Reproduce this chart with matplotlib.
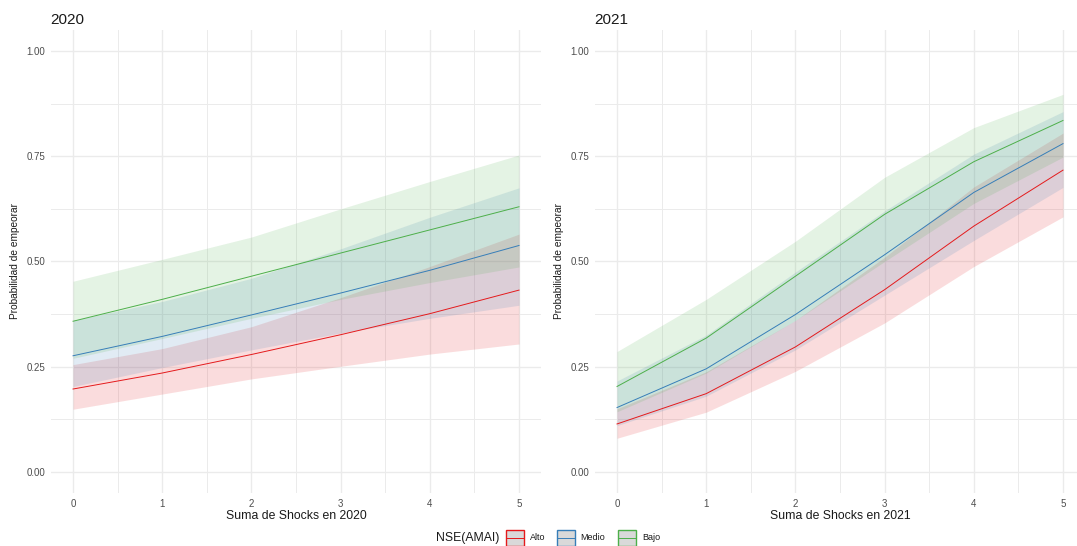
import matplotlib.pyplot as plt
from matplotlib.patches import Rectangle
from matplotlib.lines import Line2D

plt.rcParams['font.family'] = ['Liberation Sans', 'DejaVu Sans']

shocks = [0, 1, 2, 3, 4, 5]
grupos = ['Alto', 'Medio', 'Bajo']
colores = {'Alto': '#E41A1C', 'Medio': '#377EB8', 'Bajo': '#4DAF4A'}

# 2020: probabilidad predicha y banda de confianza por NSE
p2020 = {
    'Alto':  [0.197, 0.235, 0.279, 0.326, 0.376, 0.432],
    'Medio': [0.276, 0.322, 0.373, 0.425, 0.479, 0.538],
    'Bajo':  [0.358, 0.410, 0.465, 0.520, 0.575, 0.630],
}
lo2020 = {
    'Alto':  [0.149, 0.185, 0.221, 0.251, 0.280, 0.304],
    'Medio': [0.203, 0.248, 0.290, 0.330, 0.365, 0.396],
    'Bajo':  [0.270, 0.317, 0.365, 0.410, 0.450, 0.487],
}
hi2020 = {
    'Alto':  [0.255, 0.293, 0.345, 0.414, 0.488, 0.565],
    'Medio': [0.360, 0.405, 0.460, 0.530, 0.605, 0.675],
    'Bajo':  [0.453, 0.505, 0.558, 0.625, 0.690, 0.753],
}

# 2021
p2021 = {
    'Alto':  [0.114, 0.186, 0.297, 0.433, 0.584, 0.717],
    'Medio': [0.153, 0.245, 0.374, 0.516, 0.664, 0.780],
    'Bajo':  [0.203, 0.318, 0.465, 0.612, 0.737, 0.835],
}
lo2021 = {
    'Alto':  [0.080, 0.142, 0.239, 0.354, 0.488, 0.606],
    'Medio': [0.110, 0.180, 0.290, 0.420, 0.550, 0.676],
    'Bajo':  [0.143, 0.235, 0.360, 0.500, 0.638, 0.748],
}
hi2021 = {
    'Alto':  [0.150, 0.238, 0.360, 0.510, 0.677, 0.805],
    'Medio': [0.216, 0.325, 0.475, 0.620, 0.755, 0.856],
    'Bajo':  [0.286, 0.410, 0.548, 0.700, 0.818, 0.897],
}

paneles = [
    ('2020', p2020, lo2020, hi2020, 'Suma de Shocks en 2020'),
    ('2021', p2021, lo2021, hi2021, 'Suma de Shocks en 2021'),
]

fig = plt.figure(figsize=(10.77, 5.46), dpi=100)
posiciones = [[0.0471, 0.0971, 0.4555, 0.848], [0.5522, 0.0971, 0.4555, 0.848]]

for pos, (titulo, p, lo, hi, xlab) in zip(posiciones, paneles):
    ax = fig.add_axes(pos)
    for g in grupos:
        ax.fill_between(shocks, lo[g], hi[g], color=colores[g], alpha=0.15, linewidth=0)
    for g in grupos:
        ax.plot(shocks, p[g], color=colores[g], linewidth=0.7)

    ax.set_xlim(-0.25, 5.25)
    ax.set_ylim(-0.05, 1.05)
    ax.set_xticks(shocks)
    ax.set_xticks([0.5, 1.5, 2.5, 3.5, 4.5], minor=True)
    ax.set_yticks([0, 0.25, 0.5, 0.75, 1.0])
    ax.set_yticklabels(['0.00', '0.25', '0.50', '0.75', '1.00'])
    ax.set_yticks([0.125, 0.375, 0.625, 0.875], minor=True)
    ax.grid(True, which='major', color='#EBEBEB', linewidth=1.0)
    ax.grid(True, which='minor', color='#EBEBEB', linewidth=0.7)
    ax.set_axisbelow(True)
    for s in ax.spines.values():
        s.set_visible(False)
    ax.tick_params(which='both', length=0, labelsize=7, labelcolor='#4D4D4D')
    ax.tick_params(axis='y', pad=4)
    ax.tick_params(axis='x', pad=4)

    ax.set_xlabel(xlab, fontsize=8.8, color='#1A1A1A')
    ax.xaxis.set_label_coords(0.5, -0.037)
    ax.set_ylabel('Probabilidad de empeorar', fontsize=7.3, color='#1A1A1A')
    ax.yaxis.set_label_coords(-0.062, 0.5)
    ax.text(0, 1.022, titulo, transform=ax.transAxes, fontsize=11, color='#1A1A1A',
            ha='left', va='center')

# leyenda
fig.text(436 / 1077, 8 / 546, 'NSE(AMAI)', fontsize=8.8, color='#1A1A1A', ha='left', va='center')
caja_x = [506, 557, 618]
texto_x = [530, 580, 642]
for g, bx, tx in zip(grupos, caja_x, texto_x):
    fig.patches.append(Rectangle((bx / 1077, 0.5 / 546), 17.5 / 1077, 15.5 / 546,
                                 transform=fig.transFigure, facecolor='#D9D9D9',
                                 edgecolor=colores[g], linewidth=1.0))
    fig.lines.append(Line2D([bx / 1077, (bx + 17.5) / 1077], [8.25 / 546, 8.25 / 546],
                            transform=fig.transFigure, color=colores[g], linewidth=0.7))
    fig.text(tx / 1077, 8 / 546, g, fontsize=6.5, color='#1A1A1A', ha='left', va='center')

fig.savefig('out.png', dpi=100, facecolor='white')
